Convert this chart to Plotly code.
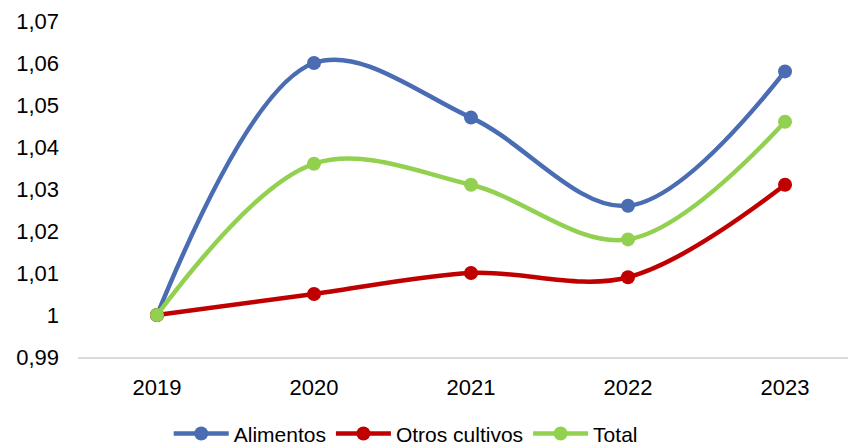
import plotly.graph_objects as go

years = ["2019", "2020", "2021", "2022", "2023"]
alimentos = [1.000, 1.060, 1.047, 1.026, 1.058]
otros_cultivos = [1.000, 1.005, 1.010, 1.009, 1.031]
total = [1.000, 1.036, 1.031, 1.018, 1.046]
y_tickvals = [0.99, 1.00, 1.01, 1.02, 1.03, 1.04, 1.05, 1.06, 1.07]
y_ticktext = ["0,99", "1", "1,01", "1,02", "1,03", "1,04", "1,05", "1,06", "1,07"]

series = [
    ("Alimentos", alimentos, "#4A6CB3"),
    ("Otros cultivos", otros_cultivos, "#C00000"),
    ("Total", total, "#92D050"),
]

fig = go.Figure()
for name, vals, color in series:
    fig.add_trace(go.Scatter(
        x=list(range(len(years))), y=vals, name=name, mode="lines+markers",
        line=dict(color=color, width=4.5, shape="spline", smoothing=1.0),
        marker=dict(color=color, size=14),
    ))

font = "Liberation Sans, Arial, sans-serif"
fig.update_layout(
    width=848, height=439,
    margin=dict(l=70, r=0, t=13, b=90, autoexpand=False),
    paper_bgcolor="white", plot_bgcolor="white",
    font=dict(family=font, size=22, color="#000000"),
    showlegend=True,
    legend=dict(orientation="h", xref="container", yref="container",
                x=0.469, y=0.03, xanchor="center", yanchor="middle",
                font=dict(size=21), itemwidth=55, tracegroupgap=0),
    xaxis=dict(range=[-0.503, 4.452], tickmode="array",
               tickvals=list(range(len(years))), ticktext=years,
               showgrid=False, zeroline=False, showline=True,
               linecolor="#D9D9D9", linewidth=2, ticks="",
               ticklabelstandoff=10, automargin=False),
    yaxis=dict(range=[0.99, 1.07], tickmode="array", tickvals=y_tickvals,
               ticktext=y_ticktext, showgrid=False, zeroline=False,
               showline=False, ticks="", ticklabelstandoff=18,
               automargin=False),
)

fig.write_html("out.html")
